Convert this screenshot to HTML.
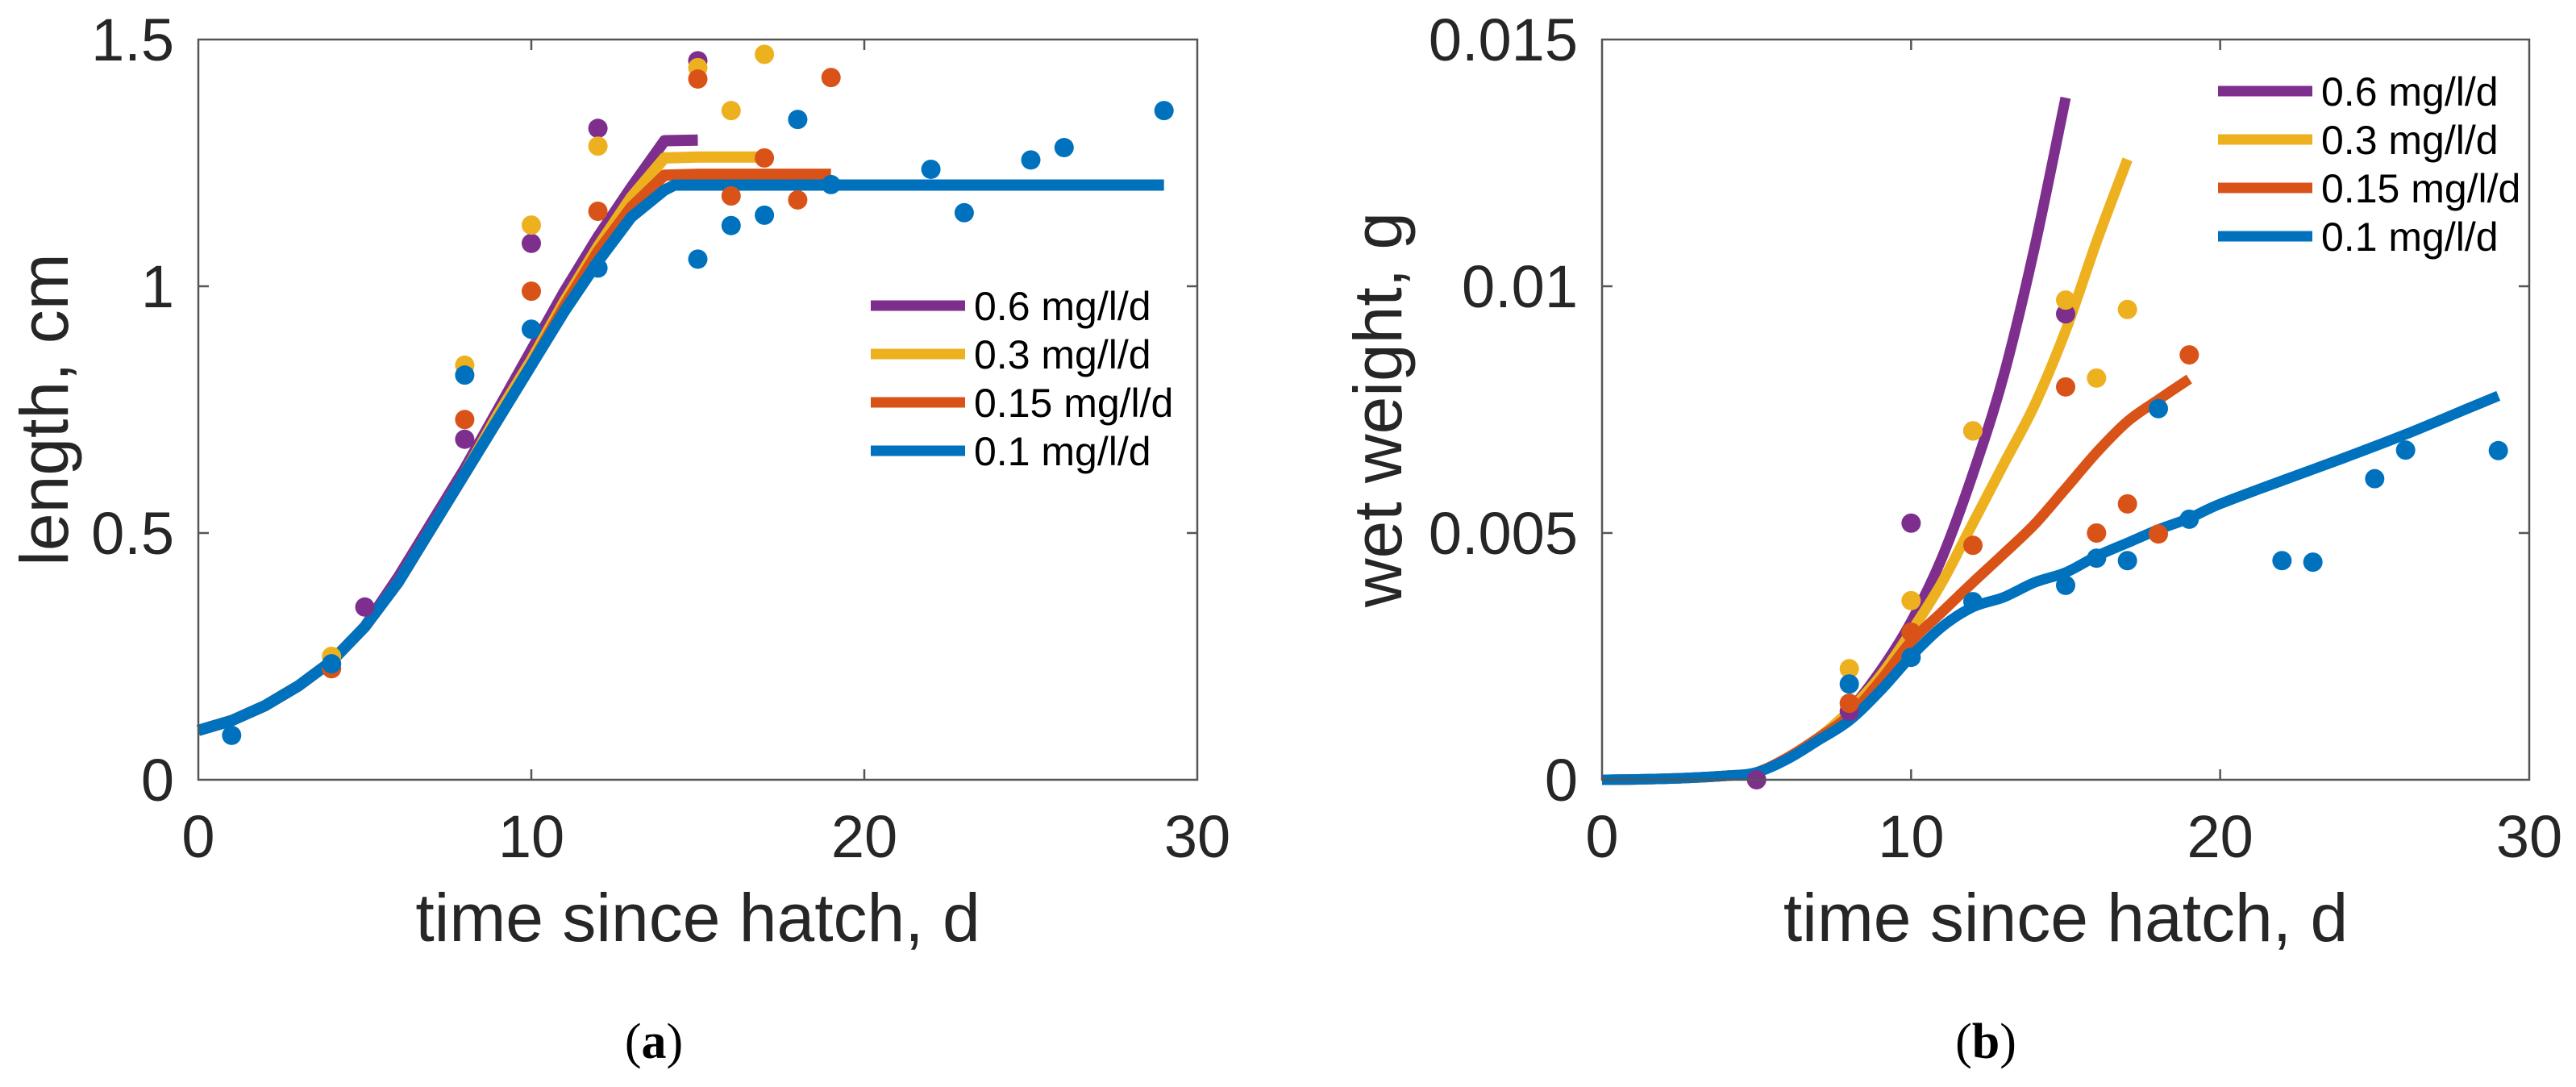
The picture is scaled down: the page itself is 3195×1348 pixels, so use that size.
<!DOCTYPE html>
<html><head><meta charset="utf-8"><style>
html,body{margin:0;padding:0;background:#fff;}
svg{display:block;font-family:"Liberation Sans",sans-serif;}
</style></head><body>
<svg id="fig" width="3195" height="1348" viewBox="0 0 3195 1348" xmlns="http://www.w3.org/2000/svg"></svg>
<script>
// ---- shared data ----
const seriesNames = ["0.6 mg/l/d","0.3 mg/l/d","0.15 mg/l/d","0.1 mg/l/d"];
const seriesColors = ["#7E2F8E","#EDB120","#D95319","#0072BD"];
const xTicks = [0,10,20,30];

// ---- panel (a) length ----
const lenYTicks = [0,0.5,1,1.5];
const lenYTickLabels = ["0","0.5","1","1.5"];
const lenCurveT = [
  [0,1,2,3,4,5,6,7,8,9,10,11,12,13,14,15],
  [0,1,2,3,4,5,6,7,8,9,10,11,12,13,14,15,16,17],
  [0,1,2,3,4,5,6,7,8,9,10,11,12,13,14,15,16,17,18,19],
  [0,1,2,3,4,5,6,7,8,9,10,11,12,13,14,14.3,15,20,25,29]
];
const lenCurveV = [
  [0.10,0.12,0.15,0.19,0.24,0.31,0.41,0.52,0.63,0.75,0.87,0.99,1.10,1.20,1.295,1.296],
  [0.10,0.12,0.15,0.19,0.24,0.31,0.40,0.51,0.62,0.74,0.85,0.97,1.08,1.18,1.26,1.262,1.262,1.262],
  [0.10,0.12,0.15,0.19,0.24,0.31,0.40,0.51,0.62,0.73,0.84,0.96,1.07,1.16,1.225,1.227,1.227,1.227,1.227,1.227],
  [0.10,0.12,0.15,0.19,0.24,0.31,0.40,0.51,0.62,0.73,0.84,0.95,1.05,1.14,1.195,1.205,1.205,1.205,1.205,1.205]
];
const lenObsT = [
  [5,8,10,12,15],
  [4,8,10,12,15,16,17],
  [4,8,10,12,15,16,17,18,19],
  [1,4,8,10,12,15,16,17,18,19,22,23,25,26,29]
];
const lenObsV = [
  [0.35,0.69,1.087,1.32,1.457],
  [0.25,0.84,1.124,1.284,1.443,1.356,1.47],
  [0.225,0.73,0.99,1.152,1.42,1.183,1.26,1.175,1.423],
  [0.09,0.235,0.82,0.913,1.037,1.055,1.123,1.144,1.338,1.206,1.237,1.149,1.256,1.281,1.356]
];

// ---- panel (b) wet weight ----
const wwYTicks = [0,0.005,0.01,0.015];
const wwYTickLabels = ["0","0.005","0.01","0.015"];
const wwCurveT = [
  [0,2,4,5,6,7,8,9,10,11,12,13,14,15],
  [0,2,4,5,6,7,8,9,10,11,12,13,14,15,16,17],
  [0,2,4,5,6,7,8,9,10,11,12,13,14,15,16,17,18,19],
  [0,2,4,5,6,7,8,9,10,11,12,13,14,15,16,17,18,19,20,22,24,26,28,29]
];
const wwCurveV = [
  [0,0.00002,0.00008,0.00015,0.00045,0.00085,0.0014,0.0022,0.0032,0.0045,0.0062,0.0082,0.0108,0.01382],
  [0,0.00002,0.00008,0.00015,0.00045,0.00085,0.0014,0.0021,0.0030,0.0040,0.0052,0.0064,0.0076,0.0091,0.0109,0.01257],
  [0,0.00002,0.00008,0.00015,0.00045,0.00085,0.0013,0.0020,0.0028,0.0034,0.0040,0.00458,0.00518,0.0059,0.00663,0.00726,0.0077,0.00812],
  [0,0.00002,0.00008,0.00015,0.00042,0.0008,0.0012,0.0018,0.00250,0.0031,0.0035,0.0037,0.0040,0.0042,0.00453,0.0048,0.00507,0.0053,0.00559,0.00606,0.00652,0.007,0.00752,0.00778]
];
const wwObsT = [
  [5,8,10,12,15],
  [8,10,12,15,16,17],
  [8,10,12,15,16,17,18,19],
  [8,10,12,15,16,17,18,19,22,23,25,26,29]
];
const wwObsV = [
  [0,0.00139,0.0052,0.00707,0.00944],
  [0.00225,0.00363,0.00707,0.00972,0.00814,0.00953],
  [0.00155,0.00299,0.00475,0.00796,0.005,0.00559,0.00498,0.00861],
  [0.00194,0.00248,0.00361,0.00394,0.00449,0.00444,0.00752,0.00528,0.00444,0.00441,0.0061,0.00668,0.00667]
];

const NS = "http://www.w3.org/2000/svg";
const svg = document.getElementById("fig");
function mk(tag, attrs, parent){
  const e = document.createElementNS(NS, tag);
  for (const k in attrs) e.setAttribute(k, attrs[k]);
  (parent||svg).appendChild(e);
  return e;
}
function smoothPath(P){
  let d = "M" + P[0][0].toFixed(1) + "," + P[0][1].toFixed(1);
  for (let i = 0; i < P.length - 1; i++){
    const p0 = P[Math.max(0,i-1)], p1 = P[i], p2 = P[i+1], p3 = P[Math.min(P.length-1,i+2)];
    const c1x = p1[0] + (p2[0]-p0[0])/6, c1y = p1[1] + (p2[1]-p0[1])/6;
    const c2x = p2[0] - (p3[0]-p1[0])/6, c2y = p2[1] - (p3[1]-p1[1])/6;
    d += " C" + c1x.toFixed(1) + "," + c1y.toFixed(1) + " " + c2x.toFixed(1) + "," + c2y.toFixed(1) + " " + p2[0].toFixed(1) + "," + p2[1].toFixed(1);
  }
  return d;
}

function panel(cfg){
  const g = mk("g", {});
  
  
  const sx = t => cfg.x0 + (t - 0) / 30 * (cfg.x1 - cfg.x0);
  const sy = v => cfg.y0 - v / cfg.ymax * (cfg.y0 - cfg.y1);
  for (let s = 0; s < 4; s++){
    const P = cfg.cT[s].map((t,i) => [sx(t), sy(cfg.cV[s][i])]);
    let el;
    if (cfg.smooth){
      el = mk("path", {d: smoothPath(P), fill:"none", stroke: seriesColors[s], "stroke-width": cfg.lw, "stroke-linejoin":"round"}, g);
    } else {
      el = mk("polyline", {points: P.map(p => p[0].toFixed(1)+","+p[1].toFixed(1)).join(" "), fill:"none", stroke: seriesColors[s], "stroke-width": cfg.lw, "stroke-linejoin":"round"}, g);
    }
    
    
  }
  for (let s = 0; s < 4; s++){
    cfg.oT[s].forEach((t,i) => {
      const c = mk("circle", {cx: sx(t), cy: sy(cfg.oV[s][i]), r: 12, fill: seriesColors[s]}, g);
      
      
    });
  }
  const box = mk("rect", {x: cfg.x0, y: cfg.y1, width: cfg.x1 - cfg.x0, height: cfg.y0 - cfg.y1, fill:"none", stroke:"#555", "stroke-width": 2.5}, g);
  
  
  xTicks.forEach(t => {
    const x = sx(t);
    if (t > 0 && t < 30){
      mk("line", {x1:x, x2:x, y1:cfg.y0, y2:cfg.y0-13, stroke:"#555","stroke-width":2.5}, g);
      mk("line", {x1:x, x2:x, y1:cfg.y1, y2:cfg.y1+13, stroke:"#555","stroke-width":2.5}, g);
    }
    const tl = mk("text", {x:x, y:1063, "text-anchor":"middle", "font-size":74, fill:"#262626"}, g);
    tl.textContent = t;
    
    
  });
  cfg.yT.forEach((v,i) => {
    const y = sy(v);
    if (i > 0 && i < cfg.yT.length - 1){
      mk("line", {x1:cfg.x0, x2:cfg.x0+13, y1:y, y2:y, stroke:"#555","stroke-width":2.5}, g);
      mk("line", {x1:cfg.x1, x2:cfg.x1-13, y1:y, y2:y, stroke:"#555","stroke-width":2.5}, g);
    }
    const tl = mk("text", {x:cfg.x0-30, y:y+26, "text-anchor":"end", "font-size":74, fill:"#262626"}, g);
    tl.textContent = cfg.yL[i];
    
    
  });
  const xt = mk("text", {x:(cfg.x0+cfg.x1)/2, y:1167, "text-anchor":"middle", "font-size":84, fill:"#262626"}, g);
  xt.textContent = "time since hatch, d";
  
  
  const yt = mk("text", {x:0, y:0, "text-anchor":"middle", "font-size":84, fill:"#262626", transform:"translate(" + cfg.ylx + "," + ((cfg.y0+cfg.y1)/2) + ") rotate(-90)"}, g);
  yt.textContent = cfg.ylabel;
  
  
  const lg = mk("g", {}, g);
  
  
  for (let s = 0; s < 4; s++){
    const y = cfg.legY + s * cfg.legDy;
    const ln = mk("line", {x1:cfg.legX, x2:cfg.legX+117, y1:y, y2:y, stroke:seriesColors[s], "stroke-width":13}, lg);
    
    
    const tx = mk("text", {x:cfg.legX+128, y:y+18, "font-size":50, fill:"#000"}, lg);
    tx.textContent = seriesNames[s];
    
    
  }
  const cap = mk("text", {x:cfg.capX, y:1312, "text-anchor":"middle", "font-size":62, fill:"#000", "font-family":"'Liberation Serif',serif"}, g);
  cap.innerHTML = '(<tspan font-weight="bold">' + cfg.cap + '</tspan>)';
  
  
}

panel({name:"length-chart", x0:246, x1:1485, y0:967, y1:49, ymax:1.5, lw:14, smooth:false,
  cT:lenCurveT, cV:lenCurveV, oT:lenObsT, oV:lenObsV, yT:lenYTicks, yL:lenYTickLabels,
  ylabel:"length, cm", ylx:84, legX:1080, legY:379, legDy:60, capX:811, cap:"a"});
panel({name:"wet-weight-chart", x0:1987, x1:3137, y0:967, y1:49, ymax:0.015, lw:13, smooth:true,
  cT:wwCurveT, cV:wwCurveV, oT:wwObsT, oV:wwObsV, yT:wwYTicks, yL:wwYTickLabels,
  ylabel:"wet weight, g", ylx:1738, legX:2751, legY:113, legDy:60, capX:2463, cap:"b"});
</script>
</body></html>
